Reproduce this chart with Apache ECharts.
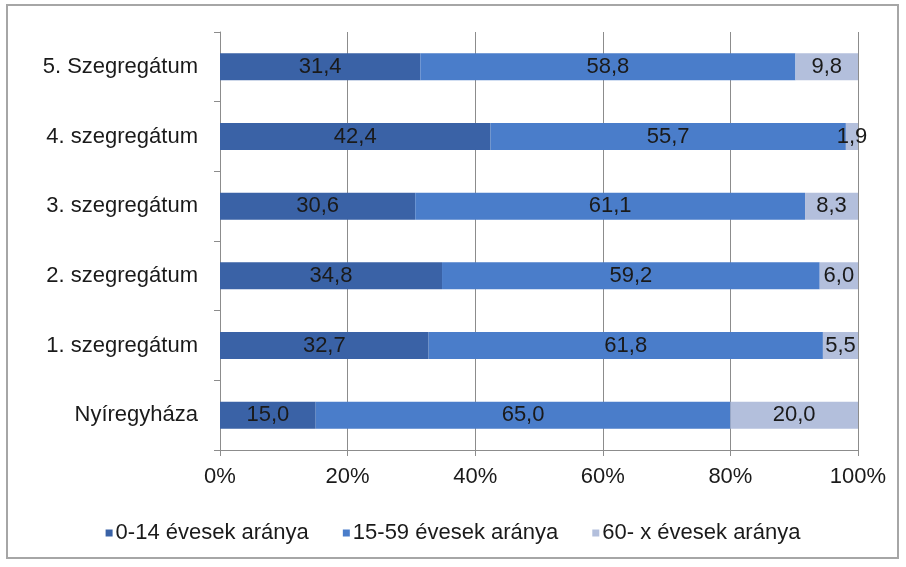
<!DOCTYPE html>
<html><head><meta charset="utf-8">
<script src="https://cdn.jsdelivr.net/npm/echarts@6/dist/echarts.min.js"></script>
<style>html,body{margin:0;padding:0;background:#fff}#c{width:906px;height:567px}</style>
</head><body><div id="c"></div>
<script>
const categories = ['Nyíregyháza','1. szegregátum','2. szegregátum','3. szegregátum','4. szegregátum','5. Szegregátum'];
const seriesNames = ['0-14 évesek aránya','15-59 évesek aránya','60- x évesek aránya'];
const age0_14 = [15.0, 32.7, 34.8, 30.6, 42.4, 31.4];
const age15_59 = [65.0, 61.8, 59.2, 61.1, 55.7, 58.8];
const age60 = [20.0, 5.5, 6.0, 8.3, 1.9, 9.8];
const xTicks = ['0%','20%','40%','60%','80%','100%'];

const colors = ['#3A62A6','#4A7DCA','#B3BFDC'];
const font = 'Liberation Sans, Arial, sans-serif';
const fs = 22;
const data = [age0_14, age15_59, age60];
const chart = echarts.init(document.getElementById('c'), null, {renderer:'canvas'});
chart.setOption({
  animation:false,
  graphic:[{type:'rect',shape:{x:7,y:5,width:891,height:553},style:{fill:'none',stroke:'#a6a6a6',lineWidth:2}}],
  grid:{left:220,right:48,top:32,bottom:117},
  legend:{bottom:18,left:'center',itemWidth:7,itemHeight:7,itemGap:34,icon:'rect',
    textStyle:{fontFamily:font,fontSize:fs,color:'#1a1a1a',padding:[0,0,0,-2]},data:seriesNames},
  xAxis:{type:'value',min:0,max:100,interval:20,
    axisLabel:{fontFamily:font,fontSize:fs,color:'#1a1a1a',margin:16,formatter:v=>xTicks[v/20]},
    axisLine:{show:true,lineStyle:{color:'#8c8c8c'}},axisTick:{show:true,length:6,lineStyle:{color:'#8c8c8c'}},
    splitLine:{show:true,lineStyle:{color:'#8c8c8c',width:1}}},
  yAxis:{type:'category',data:categories,
    axisLabel:{fontFamily:font,fontSize:fs,color:'#1a1a1a',margin:22},
    axisLine:{show:true,lineStyle:{color:'#8c8c8c'}},
    axisTick:{show:true,length:6,lineStyle:{color:'#8c8c8c'}}},
  series:seriesNames.map((n,i)=>({
    name:n,type:'bar',stack:'t',barWidth:27,data:data[i],
    itemStyle:{color:colors[i]},
    label:{show:true,position:'inside',fontFamily:font,fontSize:fs,color:'#1a1a1a',
      formatter:p=>p.value.toFixed(1).replace('.',',')}
  }))
});
</script></body></html>
